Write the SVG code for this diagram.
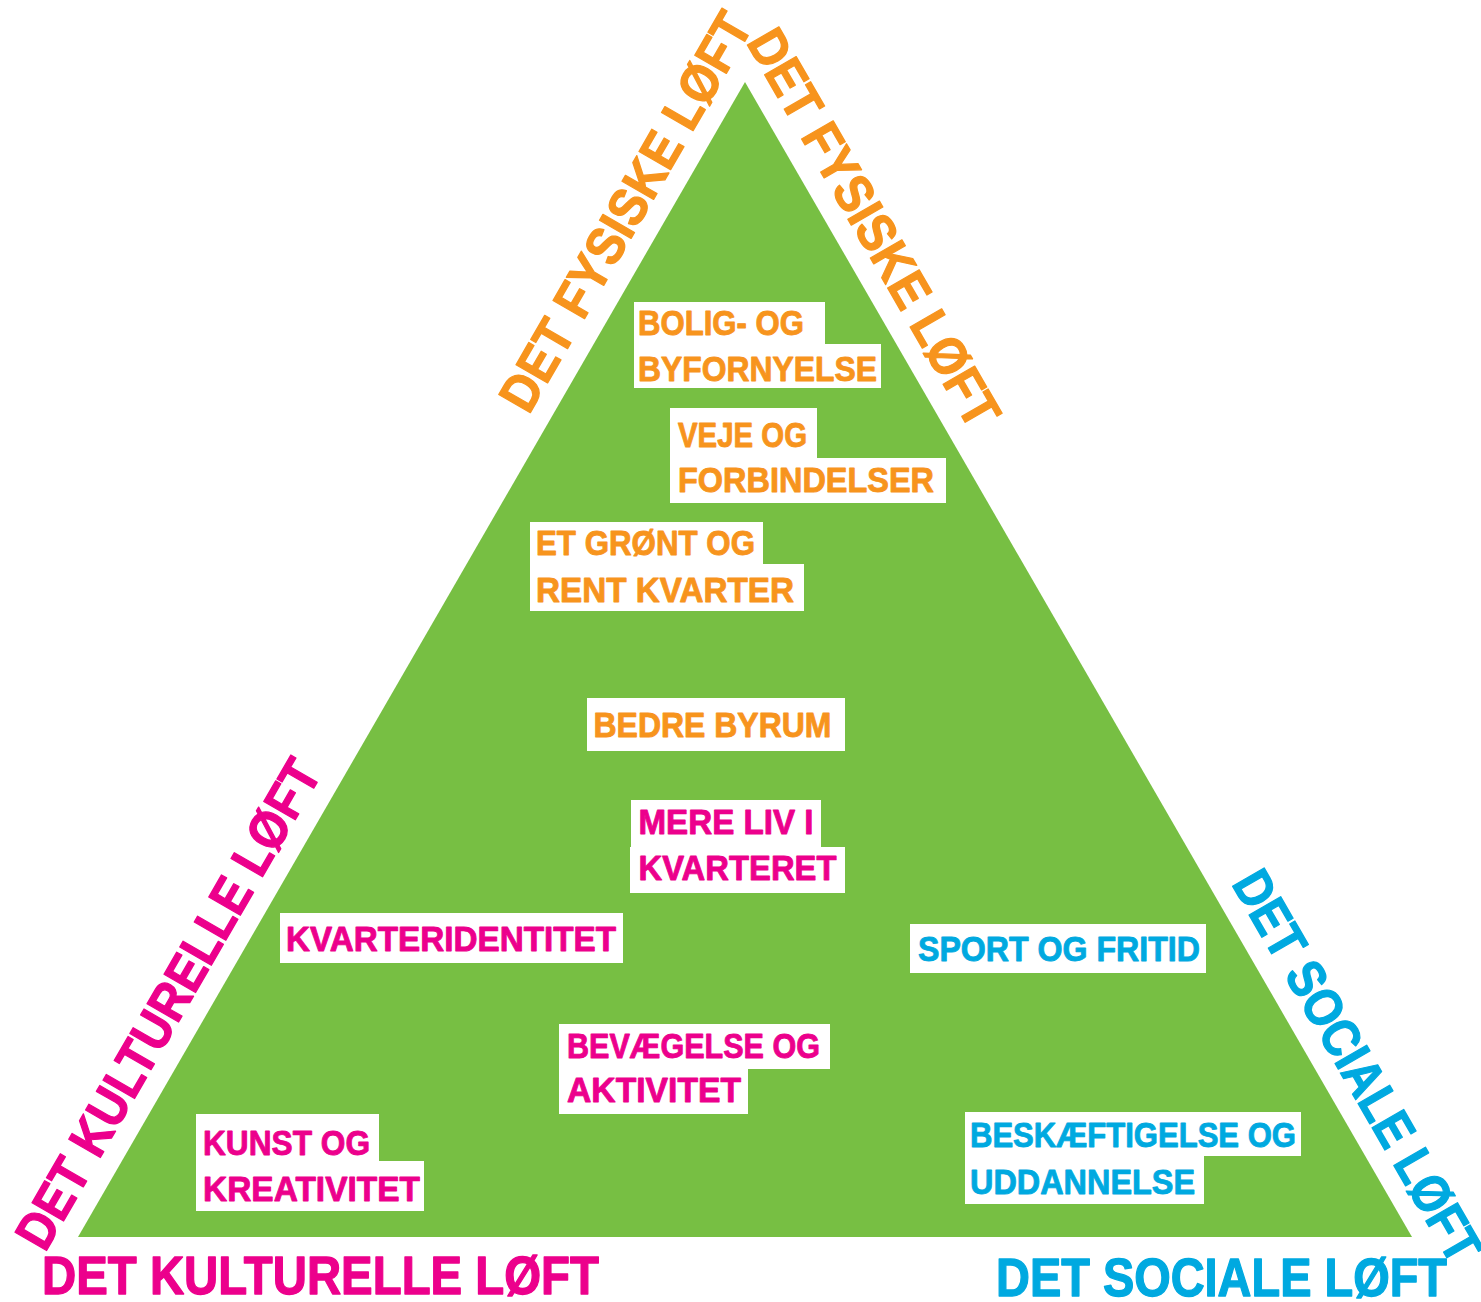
<svg xmlns="http://www.w3.org/2000/svg" width="1481" height="1302" viewBox="0 0 1481 1302">
<style>
.t{font-family:"Liberation Sans",Arial,sans-serif;font-weight:bold;font-size:35px;stroke-width:0.9px;stroke-linejoin:round}
.big{font-family:"Liberation Sans",Arial,sans-serif;font-weight:bold;font-size:53px;stroke-width:1.3px;stroke-linejoin:round}
.o{fill:#F7941D;stroke:#F7941D}.m{fill:#EC008C;stroke:#EC008C}.c{fill:#00A9E0;stroke:#00A9E0}
.box{fill:#FFFFFF}
</style>
<rect width="1481" height="1302" fill="#FFFFFF"/>
<g id="pyramid"><polygon points="745,82 78,1237 1412,1237" fill="#77BF43"/></g>
<g id="connectors"/>
<g id="side-fysiske-left"><text class="big o" text-anchor="middle" textLength="450" lengthAdjust="spacingAndGlyphs" transform="translate(641.3,220.6) rotate(-60)">DET FYSISKE LØFT</text></g>
<g id="side-fysiske-right"><text class="big o" text-anchor="middle" textLength="450" lengthAdjust="spacingAndGlyphs" transform="translate(858.2,237) rotate(60)">DET FYSISKE LØFT</text></g>
<g id="side-kulturelle-left"><text class="big m" text-anchor="middle" textLength="555" lengthAdjust="spacingAndGlyphs" transform="translate(183.8,1013) rotate(-60)">DET KULTURELLE LØFT</text></g>
<g id="side-sociale-right"><text class="big c" text-anchor="middle" textLength="443" lengthAdjust="spacingAndGlyphs" transform="translate(1341.7,1075.2) rotate(60)">DET SOCIALE LØFT</text></g>
<g id="bottom-kulturelle"><text class="big m" x="42" y="1294" textLength="557" lengthAdjust="spacingAndGlyphs">DET KULTURELLE LØFT</text></g>
<g id="bottom-sociale"><text class="big c" x="996" y="1296" textLength="451" lengthAdjust="spacingAndGlyphs">DET SOCIALE LØFT</text></g>
<g id="bolig">
<rect class="box" x="634" y="302" width="191" height="42"/><rect class="box" x="634" y="344" width="247" height="44"/>
<text class="t o" x="638" y="335" textLength="166" lengthAdjust="spacingAndGlyphs">BOLIG- OG</text>
<text class="t o" x="638" y="381" textLength="239" lengthAdjust="spacingAndGlyphs">BYFORNYELSE</text>
</g>
<g id="veje">
<rect class="box" x="670" y="408" width="147" height="50"/><rect class="box" x="670" y="458" width="276" height="45"/>
<text class="t o" x="678" y="447" textLength="129" lengthAdjust="spacingAndGlyphs">VEJE OG</text>
<text class="t o" x="678" y="492" textLength="256" lengthAdjust="spacingAndGlyphs">FORBINDELSER</text>
</g>
<g id="groent">
<rect class="box" x="530" y="522" width="233" height="42"/><rect class="box" x="530" y="564" width="274" height="47"/>
<text class="t o" x="536" y="555" textLength="219" lengthAdjust="spacingAndGlyphs">ET GRØNT OG</text>
<text class="t o" x="536" y="602" textLength="258" lengthAdjust="spacingAndGlyphs">RENT KVARTER</text>
</g>
<g id="byrum">
<rect class="box" x="587" y="698" width="258" height="53"/>
<text class="t o" x="593.5" y="737" textLength="238" lengthAdjust="spacingAndGlyphs">BEDRE BYRUM</text>
</g>
<g id="liv">
<rect class="box" x="631" y="800" width="190" height="47"/><rect class="box" x="630" y="847" width="215" height="46"/>
<text class="t m" x="638.5" y="834" textLength="175" lengthAdjust="spacingAndGlyphs">MERE LIV I</text>
<text class="t m" x="638.5" y="880" textLength="198" lengthAdjust="spacingAndGlyphs">KVARTERET</text>
</g>
<g id="identitet">
<rect class="box" x="280" y="913" width="343" height="50"/>
<text class="t m" x="286" y="951" textLength="330" lengthAdjust="spacingAndGlyphs">KVARTERIDENTITET</text>
</g>
<g id="sport">
<rect class="box" x="910" y="924" width="296" height="49"/>
<text class="t c" x="918" y="961" textLength="282" lengthAdjust="spacingAndGlyphs">SPORT OG FRITID</text>
</g>
<g id="bevaegelse">
<rect class="box" x="559" y="1024" width="271" height="45"/><rect class="box" x="559" y="1069" width="189" height="45"/>
<text class="t m" x="567" y="1058" textLength="253" lengthAdjust="spacingAndGlyphs">BEVÆGELSE OG</text>
<text class="t m" x="567" y="1102" textLength="174" lengthAdjust="spacingAndGlyphs">AKTIVITET</text>
</g>
<g id="kunst">
<rect class="box" x="196" y="1114" width="183" height="47"/><rect class="box" x="196" y="1161" width="228" height="50"/>
<text class="t m" x="203" y="1155" textLength="167" lengthAdjust="spacingAndGlyphs">KUNST OG</text>
<text class="t m" x="203" y="1201" textLength="217" lengthAdjust="spacingAndGlyphs">KREATIVITET</text>
</g>
<g id="beskaeftigelse">
<rect class="box" x="965" y="1112" width="336" height="44"/><rect class="box" x="965" y="1156" width="239" height="48"/>
<text class="t c" x="970" y="1147" textLength="326" lengthAdjust="spacingAndGlyphs">BESKÆFTIGELSE OG</text>
<text class="t c" x="970" y="1194" textLength="225" lengthAdjust="spacingAndGlyphs">UDDANNELSE</text>
</g>
</svg>
